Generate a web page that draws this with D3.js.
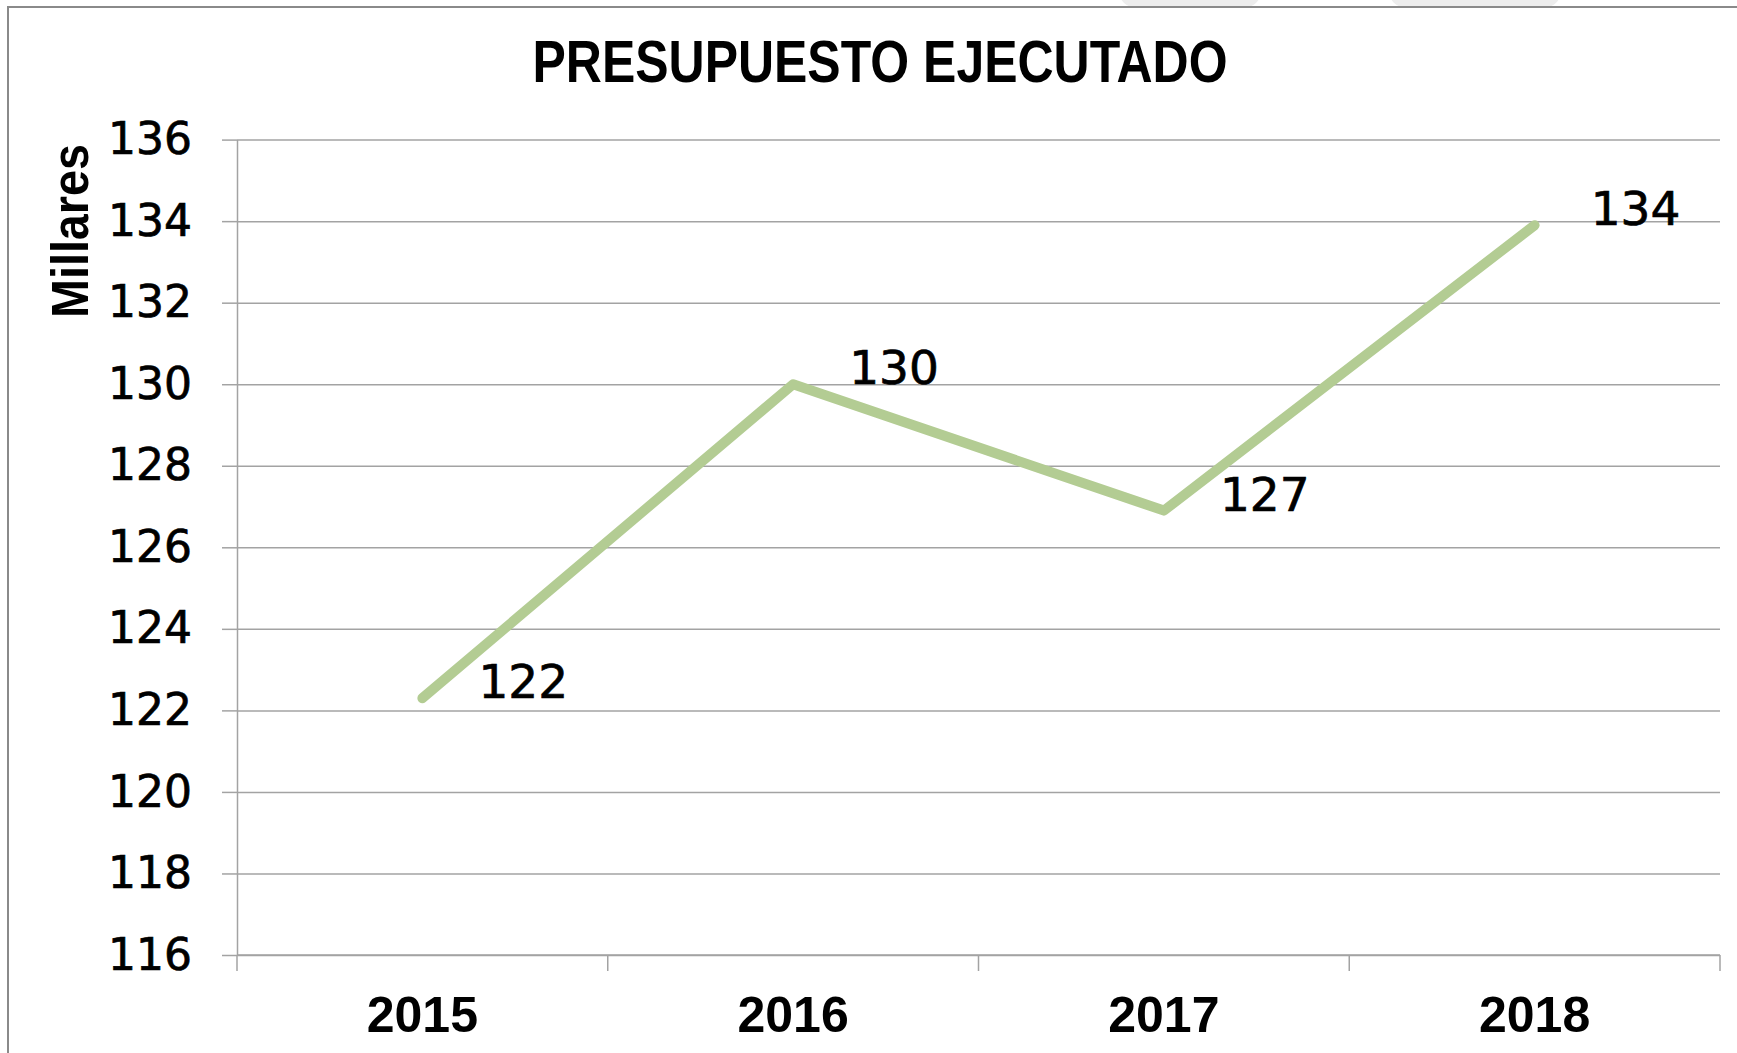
<!DOCTYPE html>
<html>
<head>
<meta charset="utf-8">
<script src="https://cdn.jsdelivr.net/npm/d3@7"></script>
<style>
  html, body { margin: 0; padding: 0; background: #fff; }
  svg { display: block; }
</style>
</head>
<body>
<svg width="1737" height="1053"></svg>
<script>
// Chart data
var years = ["2015", "2016", "2017", "2018"];
var values = [122.3, 130.0, 126.9, 133.9]; // thousands
var yTicks = [116, 118, 120, 122, 124, 126, 128, 130, 132, 134, 136];
var title = "PRESUPUESTO EJECUTADO";
var yTitle = "Millares";

var svg = d3.select("svg");
var W = 1737, H = 1053;

// plot area (don't call it "top", window.top is taken)
var pLeft = 237, pRight = 1720, pTop = 139.6, pBottom = 955;

var x = d3.scaleBand().domain(years).range([pLeft, pRight]).paddingInner(0).paddingOuter(0);
var y = d3.scaleLinear().domain([116, 136]).range([pBottom, pTop]);

// faint shapes above the frame (page behind the chart)
svg.append("rect").attr("x", 1120).attr("y", -20).attr("width", 140).attr("height", 27)
  .attr("rx", 14).attr("fill", "#ededed");
svg.append("rect").attr("x", 1390).attr("y", -20).attr("width", 170).attr("height", 27)
  .attr("rx", 14).attr("fill", "#ededed");

// outer frame, runs off the right and bottom edge
svg.append("rect")
  .attr("x", 8).attr("y", 7)
  .attr("width", W + 20).attr("height", H + 20)
  .attr("fill", "#fff")
  .attr("stroke", "#8a8a8a")
  .attr("stroke-width", 2);

// title - condensed look via textLength
svg.append("text")
  .attr("x", 880).attr("y", 82)
  .attr("text-anchor", "middle")
  .attr("textLength", 695)
  .attr("lengthAdjust", "spacingAndGlyphs")
  .style("font-family", "'Liberation Sans', Arial, sans-serif")
  .style("font-weight", "bold")
  .style("font-size", "59px")
  .attr("fill", "#000")
  .text(title);

// gridlines
var grid = svg.append("g").attr("transform", "translate(" + pLeft + ",0)")
  .call(d3.axisLeft(y).tickValues(yTicks).tickSize(-(pRight - pLeft)).tickFormat(""));
grid.select(".domain").remove();
grid.selectAll("line").attr("stroke", "#a3a3a3").attr("stroke-width", 1.5);

// y axis
var yAxis = svg.append("g").attr("transform", "translate(" + pLeft + ",0)")
  .call(d3.axisLeft(y).tickValues(yTicks).tickSizeInner(15).tickSizeOuter(0).tickPadding(30).tickFormat(d3.format("d")));
yAxis.select(".domain").attr("stroke", "#a3a3a3").attr("stroke-width", 1.5);
yAxis.selectAll("line").attr("stroke", "#a3a3a3").attr("stroke-width", 1.5);
yAxis.selectAll("text")
  .style("font-family", "'DejaVu Sans', sans-serif")
  .style("font-size", "44px")
  .attr("fill", "#000")
  .attr("stroke", "#000").attr("stroke-width", 0.7);

// y title
svg.append("text")
  .attr("transform", "translate(88,231) rotate(-90)")
  .attr("text-anchor", "middle")
  .attr("textLength", 174)
  .attr("lengthAdjust", "spacingAndGlyphs")
  .style("font-family", "'Liberation Sans', Arial, sans-serif")
  .style("font-weight", "bold")
  .style("font-size", "52px")
  .attr("fill", "#000")
  .text(yTitle);

// x axis: base line, ticks on category boundaries
var xAxis = svg.append("g").attr("transform", "translate(0," + pBottom + ")");
xAxis.append("line").attr("x1", pLeft).attr("x2", pRight).attr("stroke", "#a3a3a3").attr("stroke-width", 1.5);
var bounds = years.map(function(d) { return x(d); }).concat([x.range()[1]]);
xAxis.selectAll("line.tick").data(bounds).enter().append("line")
  .attr("class", "tick")
  .attr("x1", function(d) { return d; }).attr("x2", function(d) { return d; })
  .attr("y1", 0).attr("y2", 16)
  .attr("stroke", "#a3a3a3").attr("stroke-width", 1.5);
xAxis.selectAll("text").data(years).enter().append("text")
  .attr("x", function(d) { return x(d) + x.bandwidth() / 2; })
  .attr("y", 77)
  .attr("text-anchor", "middle")
  .style("font-family", "'Liberation Sans', Arial, sans-serif")
  .style("font-weight", "bold")
  .style("font-size", "50px")
  .attr("fill", "#000")
  .text(function(d) { return d; });

// series line
var pts = years.map(function(d, i) { return {year: d, v: values[i]}; });
var line = d3.line()
  .x(function(d) { return x(d.year) + x.bandwidth() / 2; })
  .y(function(d) { return y(d.v); });

svg.append("path")
  .datum(pts)
  .attr("d", line)
  .attr("fill", "none")
  .attr("stroke", "#b3cc93")
  .attr("stroke-width", 10)
  .attr("stroke-linecap", "round")
  .attr("stroke-linejoin", "round");

// data labels, to the right of each point
svg.selectAll("text.lbl").data(pts).enter().append("text")
  .attr("class", "lbl")
  .attr("x", function(d) { return x(d.year) + x.bandwidth() / 2 + 56; })
  .attr("y", function(d) { return y(d.v); })
  .style("font-family", "'DejaVu Sans', sans-serif")
  .style("font-size", "47px")
  .attr("fill", "#000")
  .attr("stroke", "#000").attr("stroke-width", 0.7)
  .text(function(d) { return d3.format(".0f")(d.v); });
</script>
</body>
</html>
